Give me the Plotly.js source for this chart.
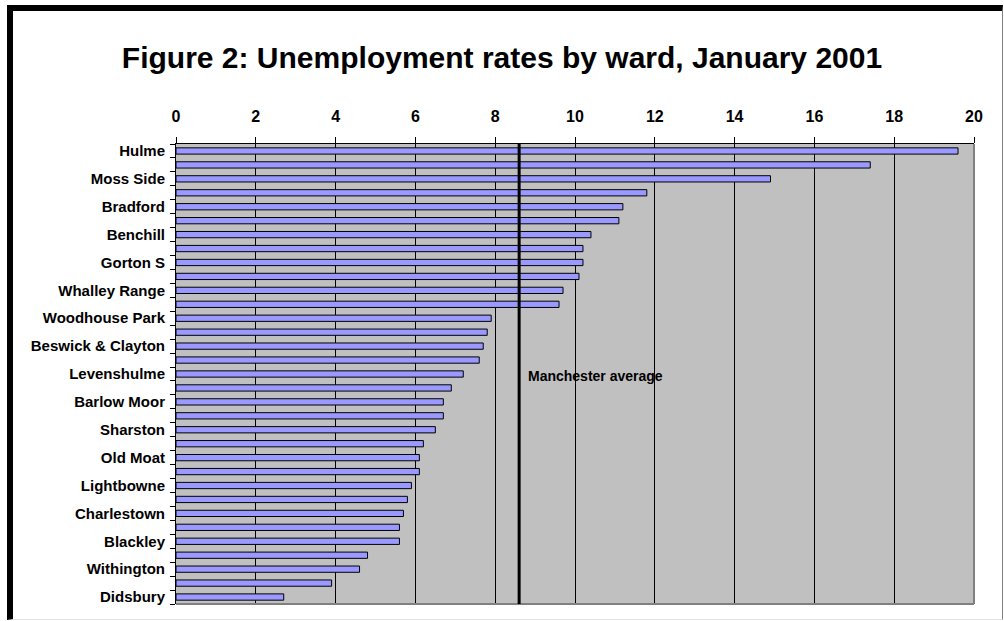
<!DOCTYPE html>
<html>
<head>
<meta charset="utf-8">
<script src="https://cdn.plot.ly/plotly-3.0.1.min.js"></script>
<style>
  html, body { margin: 0; padding: 0; background: #ffffff; }
  #wrap { position: relative; width: 1004px; height: 621px; overflow: hidden; }
  #frame { position: absolute; left: 7px; top: 5px; width: 989px; height: 608px;
           border-left: 6px solid #000; border-top: 6px solid #000;
           border-right: 1px solid #808080; border-bottom: 1px solid #e4e4e4;
           pointer-events: none; }
  #chart { position: absolute; left: 0; top: 0; width: 1004px; height: 621px; }
</style>
</head>
<body>
<div id="wrap">
  <div id="chart"></div>
  <div id="frame"></div>
</div>
<script>
// Wards ordered from highest to lowest rate (every other label shown in the original)
const wards = [
  "Hulme", "Ardwick", "Moss Side", "Cheetham", "Bradford", "Harpurhey",
  "Benchill", "Central", "Gorton S", "Longsight", "Whalley Range", "Rusholme",
  "Woodhouse Park", "Newton Heath", "Beswick & Clayton", "Gorton N", "Levenshulme", "Fallowfield",
  "Barlow Moor", "Crumpsall", "Sharston", "Baguley", "Old Moat", "Moston",
  "Lightbowne", "Burnage", "Charlestown", "Northenden", "Blackley", "Brooklands",
  "Withington", "Chorlton", "Didsbury"
];
const rates = [
  19.6, 17.4, 14.9, 11.8, 11.2, 11.1,
  10.4, 10.2, 10.2, 10.1, 9.7, 9.6,
  7.9, 7.8, 7.7, 7.6, 7.2, 6.9,
  6.7, 6.7, 6.5, 6.2, 6.1, 6.1,
  5.9, 5.8, 5.7, 5.6, 5.6, 4.8,
  4.6, 3.9, 2.7
];
const shownLabels = wards.map((w, i) => (i % 2 === 0 ? w : ""));
const manchesterAverage = 8.6;
const averageLabel = "Manchester average";
const xTicks = [0, 2, 4, 6, 8, 10, 12, 14, 16, 18, 20];
const chartTitle = "Figure 2: Unemployment rates by ward, January 2001";

const FONT = '"Liberation Sans", Arial, Helvetica, sans-serif';

const trace = {
  type: "bar",
  orientation: "h",
  x: rates,
  y: wards,
  marker: { color: "#9999FF", line: { color: "#000000", width: 1 } },
  hoverinfo: "skip"
};

const layout = {
  width: 1004,
  height: 621,
  margin: { l: 176, r: 30, t: 144, b: 17, pad: 0 },
  paper_bgcolor: "rgba(0,0,0,0)",
  plot_bgcolor: "#C0C0C0",
  showlegend: false,
  bargap: 0.55,
  font: { family: FONT, color: "#000000" },
  title: {
    text: "<b>" + chartTitle + "</b>",
    font: { family: FONT, size: 30, color: "#000000" },
    x: 0.5, xref: "container", xanchor: "center",
    y: 0.908, yref: "container", yanchor: "middle"
  },
  xaxis: {
    side: "top",
    range: [0, 20],
    tickmode: "array",
    tickvals: xTicks,
    ticktext: xTicks.map(v => "<b>" + v + "</b>"),
    tickfont: { family: FONT, size: 16, color: "#000000" },
    ticks: "outside",
    ticklen: 6,
    tickcolor: "#000000",
    tickwidth: 1,
    ticklabelstandoff: 9,
    showgrid: true,
    gridcolor: "#000000",
    gridwidth: 1,
    showline: true,
    linecolor: "#000000",
    linewidth: 1,
    zeroline: false,
    fixedrange: true
  },
  yaxis: {
    type: "category",
    categoryorder: "array",
    categoryarray: wards,
    autorange: "reversed",
    tickmode: "array",
    tickvals: wards,
    ticktext: shownLabels.map(t => (t ? "<b>" + t + "</b>" : "")),
    tickson: "boundaries",
    ticks: "outside",
    ticklen: 5,
    tickcolor: "#000000",
    tickwidth: 1,
    ticklabelstandoff: 7,
    tickfont: { family: FONT, size: 15, color: "#000000" },
    showgrid: false,
    showline: true,
    linecolor: "#000000",
    linewidth: 1,
    zeroline: false,
    fixedrange: true
  },
  shapes: [
    { type: "line", xref: "paper", yref: "paper", x0: 1, x1: 1, y0: 0, y1: 1,
      line: { color: "#808080", width: 2 } },
    { type: "line", xref: "paper", yref: "paper", x0: 0, x1: 1, y0: 0, y1: 0,
      line: { color: "#808080", width: 2 } },
    { type: "line", xref: "x", yref: "paper", x0: manchesterAverage, x1: manchesterAverage, y0: 0, y1: 1,
      line: { color: "#000000", width: 3 } }
  ],
  annotations: [
    { xref: "x", yref: "y", x: manchesterAverage, y: "Levenshulme",
      text: "<b>" + averageLabel + "</b>", showarrow: false,
      xanchor: "left", xshift: 7, yshift: -2,
      font: { family: FONT, size: 14, color: "#000000" } }
  ]
};

Plotly.newPlot("chart", [trace], layout, { displayModeBar: false, staticPlot: true });
</script>
</body>
</html>
